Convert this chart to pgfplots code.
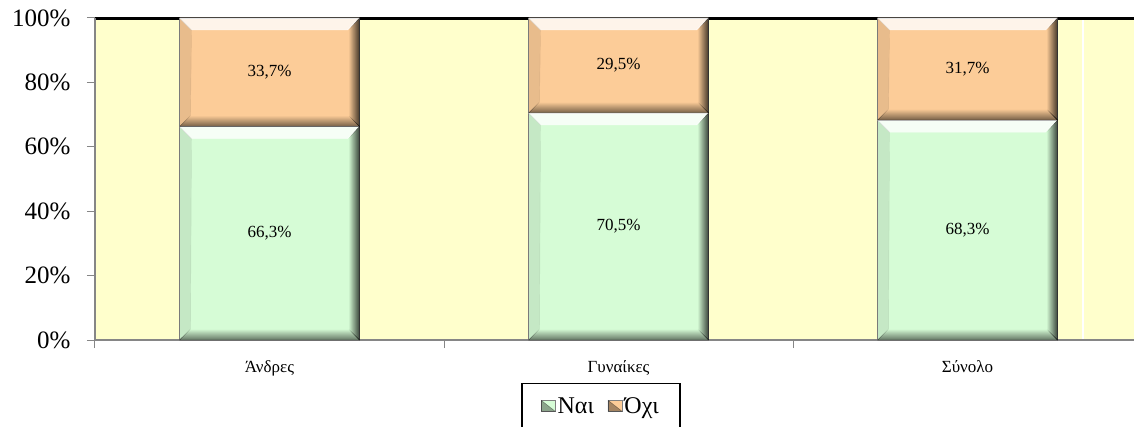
\documentclass[border=0pt]{standalone}
\usepackage{pgfplots}
\pgfplotsset{compat=1.18}
\usepackage{pgfplotstable}
\usetikzlibrary{fadings}
\usepackage{fontspec}
\setmainfont{Liberation Serif}
\definecolor{bgy}{HTML}{FFFFCC}
\definecolor{gfill}{HTML}{D6FCD6}
\definecolor{ofill}{HTML}{FCCC98}
\definecolor{axgray}{HTML}{868686}
\pgfplotstableread{
x nai oxi
0 66.3 33.7
1 70.5 29.5
2 68.3 31.7
}\data
\newif\ifinbevel
\tikzset{bevel/.style={path picture={\ifinbevel\else\inbeveltrue
  \path (path picture bounding box.south west) coordinate (bsw)
        (path picture bounding box.north east) coordinate (bne);
  \fill[white,opacity=0.8] (bsw|-bne) -- (bne) -- ([shift={(-12pt,-12pt)}]bne) -- ([shift={(12pt,-12pt)}]bsw|-bne) -- cycle;
  \fill[black,opacity=0.75,path fading=west] (bne) -- (bne|-bsw) -- ([shift={(-11pt,11pt)}]bne|-bsw) -- ([shift={(-11pt,-12pt)}]bne) -- cycle;
  \fill[black,opacity=0.55,path fading=north] (bsw) -- (bne|-bsw) -- ([shift={(-11pt,11pt)}]bne|-bsw) -- ([shift={(11pt,11pt)}]bsw) -- cycle;
  \fill[black,opacity=0.08] (bsw) -- (bsw|-bne) -- ([shift={(12pt,-12pt)}]bsw|-bne) -- ([shift={(11pt,11pt)}]bsw) -- cycle;
  \fi}},
  seg/.style={rectangle, inner sep=0pt, minimum width=180pt, minimum height={#1*3.22pt},
    anchor=center, bevel, text=black, font=\fontsize{17}{20}\selectfont},
  bgpic/.style={path picture={\ifinbevel\else\inbeveltrue
    \draw[black, line width=4pt] (path picture bounding box.north west) -- (path picture bounding box.north east);
    \draw[white, line width=1.2pt] ([xshift=988pt]path picture bounding box.south west) -- ([xshift=988pt,yshift=-2pt]path picture bounding box.north west);
    \fi}}
}
\begin{document}
\begin{tikzpicture}
\clip (-95pt,-86pt) rectangle (1039pt,340pt);
\begin{axis}[
  at={(0,0)}, anchor=south west,
  scale only axis, width=1039pt, height=322pt,
  xmin=-0.5, xmax=2.477, ymin=0, ymax=100,
  ybar stacked, bar width=180pt,
  axis background/.style={fill=bgy, bgpic},
  axis x line*=bottom, axis y line*=left,
  x axis line style={draw=axgray, line width=2pt},
  y axis line style={draw=axgray, line width=1.5pt},
  tick align=outside, major tick length=8pt,
  ytick={0,20,40,60,80,100},
  yticklabels={0\%,20\%,40\%,60\%,80\%,100\%},
  yticklabel style={font=\fontsize{25}{29}\selectfont, xshift=-13pt},
  major y tick style={draw=axgray, line width=1pt},
  xtick={0,1,2},
  xticklabels={Άνδρες,Γυναίκες,Σύνολο},
  xticklabel style={font=\fontsize{17}{20}\selectfont, yshift=-9pt},
  major x tick style={draw=none},
  extra x ticks={-0.5,0.5,1.5},
  extra x tick labels={},
  extra x tick style={major x tick style={draw=axgray, line width=1pt}},
  legend style={at={(0.487,-0.1335)}, anchor=north, draw=black, line width=1.5pt,
    legend columns=2, font=\fontsize{24}{28}\selectfont, inner xsep=19pt, inner ysep=12pt,
    /tikz/every even column/.append style={column sep=12pt}},
  legend image code/.code={\fill[#1] (0pt,-5pt) rectangle (14pt,6pt);
     \fill[black,opacity=0.35] (0pt,-5pt) -- (14pt,-5pt) -- (0pt,6pt) -- cycle;},
]
\addplot[fill=gfill, draw=black!50, line width=0.5pt] table[x=x,y=nai]{\data};
\addlegendentry{Ναι}
\addplot[fill=ofill, draw=black!50, line width=0.5pt] table[x=x,y=oxi]{\data};
\addlegendentry{Όχι}
\end{axis}
\begin{axis}[
  at={(0,0)}, anchor=south west,
  scale only axis, width=1039pt, height=322pt,
  xmin=-0.5, xmax=2.477, ymin=0, ymax=100,
  hide axis, clip=false,
  /pgf/number format/.cd, use comma, fixed, fixed zerofill, precision=1, assume math mode=true,
  /pgfplots/.cd,
]
\addplot[scatter, only marks, mark=*, mark size=0pt,
  scatter/use mapped color={draw=none, fill=none},
  visualization depends on={\thisrow{nai} \as \rawy},
  scatter/@pre marker code/.code={\node[seg=\rawy] at (canvas cs:x=0pt,y=0pt) {\pgfmathprintnumber{\rawy}\%};},
  scatter/@post marker code/.code={}]
  table[x=x, y expr=\thisrow{nai}/2]{\data};
\addplot[scatter, only marks, mark=*, mark size=0pt,
  scatter/use mapped color={draw=none, fill=none},
  visualization depends on={\thisrow{oxi} \as \rawy},
  scatter/@pre marker code/.code={\node[seg=\rawy] at (canvas cs:x=0pt,y=0pt) {\pgfmathprintnumber{\rawy}\%};},
  scatter/@post marker code/.code={}]
  table[x=x, y expr=\thisrow{nai}+\thisrow{oxi}/2]{\data};
\end{axis}
\end{tikzpicture}
\end{document}
